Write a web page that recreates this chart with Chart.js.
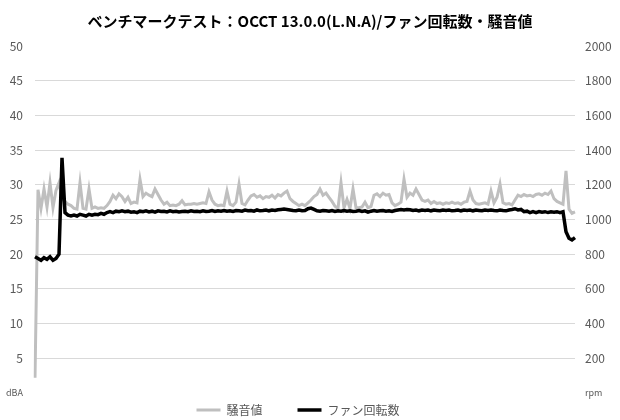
<!DOCTYPE html>
<html>
<head>
<meta charset="utf-8">
<script src="https://cdn.jsdelivr.net/npm/chart.js@4"></script>
<style>
  body { margin: 0; background: #fff; }
  #wrap { width: 620px; height: 420px; }
</style>
</head>
<body>
<div id="wrap"><canvas id="chart"></canvas></div>
<script>
/* DATA */
const chartTitle = "ベンチマークテスト：OCCT 13.0.0(L.N.A)/ファン回転数・騒音値";
const seriesNames = ["騒音値", "ファン回転数"];

// noise level (dBA), one sample per step
const noise = [
  2.2, 29.3, 26.6, 29.4, 26.8, 30.3, 26.7, 29.2, 30.3, 28.0,
  27.6, 27.2, 27.0, 26.6, 26.5, 30.3, 26.6, 26.5, 29.4, 26.6,
  26.8, 26.6, 26.7, 26.6, 27.0, 27.6, 28.5, 28.0, 28.7, 28.3,
  27.6, 28.2, 27.3, 27.5, 27.4, 30.8, 28.3, 28.8, 28.5, 28.3,
  29.4, 28.6, 27.8, 27.2, 27.5, 27.0, 27.1, 27.0, 27.2, 27.7,
  27.1, 27.2, 27.2, 27.3, 27.2, 27.3, 27.4, 27.3, 29.0, 27.8,
  27.2, 27.0, 27.1, 27.0, 29.1, 27.2, 27.0, 27.5, 30.1, 27.3,
  27.1, 27.8, 28.4, 28.6, 28.2, 28.4, 28.0, 28.3, 28.2, 28.5,
  28.1, 28.6, 28.4, 28.8, 29.1, 28.0, 27.6, 27.3, 27.0, 27.2,
  27.0, 27.4, 27.8, 28.3, 28.6, 29.4, 28.5, 28.8, 28.2, 27.6,
  26.9, 26.6, 30.3, 26.7, 27.9, 26.6, 29.4, 26.7, 26.7, 26.8,
  27.5, 26.7, 26.9, 28.5, 28.7, 28.3, 28.8, 28.5, 28.6, 27.4,
  27.0, 27.2, 27.5, 30.8, 28.2, 28.8, 28.5, 29.4, 28.6, 27.8,
  27.6, 27.8, 27.3, 27.6, 27.3, 27.4, 27.2, 27.4, 27.3, 27.5,
  27.3, 27.4, 27.2, 27.5, 27.6, 29.1, 27.8, 27.3, 27.2, 27.3,
  27.4, 27.2, 29.1, 27.4, 28.2, 30.1, 27.4, 27.2, 27.3, 27.1,
  27.8, 28.5, 28.3, 28.6, 28.4, 28.5, 28.3, 28.6, 28.7, 28.5,
  28.8, 28.6, 29.1, 28.0, 27.6, 27.4, 27.2, 32.0, 26.5, 25.9,
  26.1
];

// fan speed (rpm)
const fanRpm = [
  785, 775, 765, 780, 770, 785, 765, 775, 800, 1355,
  1040, 1025, 1020, 1025, 1020, 1030, 1025, 1020, 1030, 1025,
  1030, 1028, 1035, 1030, 1040, 1045, 1040, 1048, 1045, 1050,
  1045, 1048, 1042, 1045, 1040, 1048, 1045, 1050, 1044, 1048,
  1042, 1050, 1046, 1048, 1044, 1050, 1045, 1048, 1044, 1046,
  1048, 1045, 1050, 1046, 1048, 1045, 1050, 1046, 1048, 1052,
  1046, 1050, 1048, 1052, 1048, 1050, 1046, 1052, 1050, 1048,
  1054, 1050, 1052, 1048, 1055, 1050, 1052, 1055, 1050, 1054,
  1052, 1056, 1058, 1060, 1058, 1055, 1052, 1050, 1054, 1050,
  1052, 1062, 1066, 1058, 1050, 1048, 1052, 1050, 1048, 1052,
  1046, 1050, 1048, 1052, 1048, 1050, 1046, 1048, 1052, 1046,
  1050, 1042, 1048, 1052, 1048, 1050, 1052, 1048, 1050, 1046,
  1052, 1055, 1058, 1055, 1058, 1056, 1052, 1055, 1050, 1054,
  1052, 1055, 1050, 1054, 1052, 1050, 1054, 1052, 1055, 1050,
  1052, 1055, 1050, 1054, 1052, 1055, 1050, 1054, 1052, 1050,
  1054, 1052, 1055, 1052, 1050, 1055, 1052, 1050, 1055, 1058,
  1062, 1055, 1058, 1045, 1048, 1040, 1045, 1040, 1046, 1042,
  1045, 1040, 1044, 1042, 1045, 1040, 1045, 930, 892, 882,
  895
];

const labels = noise.map((v, i) => i + 1);

/* RENDER CHART */
const font = "'Noto Sans CJK JP', 'Noto Sans', sans-serif";
const tickColor = "#595959";

new Chart(document.getElementById("chart"), {
  type: "line",
  data: {
    labels: labels,
    datasets: [
      {
        label: seriesNames[0],
        data: noise,
        yAxisID: "y",
        borderColor: "#bfbfbf",
        backgroundColor: "#bfbfbf",
        borderWidth: 3,
        pointRadius: 0,
        tension: 0,
        order: 2
      },
      {
        label: seriesNames[1],
        data: fanRpm,
        yAxisID: "y2",
        borderColor: "#000000",
        backgroundColor: "#000000",
        borderWidth: 3.5,
        pointRadius: 0,
        tension: 0,
        order: 1
      }
    ]
  },
  options: {
    responsive: true,
    maintainAspectRatio: false,
    animation: false,
    layout: { padding: { left: 0, right: 0, top: 0, bottom: -6 } },
    plugins: {
      title: {
        display: true,
        text: chartTitle,
        color: "#000",
        font: { family: font, size: 15, weight: "bold" },
        padding: { top: 12, bottom: 16 }
      },
      legend: {
        position: "bottom",
        labels: {
          color: tickColor,
          font: { family: font, size: 12 },
          usePointStyle: true,
          pointStyle: "line",
          pointStyleWidth: 24,
          padding: 11,
          sort: (a, b) => a.datasetIndex - b.datasetIndex,
          // wider gap between the two items, like the original
          generateLabels: chart => Chart.defaults.plugins.legend.labels.generateLabels(chart)
            .map(l => Object.assign(l, { text: l.text + "\u3000\u3000" }))
        }
      },
      tooltip: { enabled: false }
    },
    scales: {
      x: { display: false },
      y: {
        position: "left",
        min: 0,
        max: 50,
        afterFit: s => { s.width = 35; },
        border: { display: false },
        grid: {
          drawTicks: false,
          color: c => (c.tick.value === 0 || c.tick.value === 50) ? "rgba(0,0,0,0)" : "#d9d9d9"
        },
        ticks: {
          stepSize: 5,
          padding: 12,
          color: tickColor,
          font: c => c.tick && c.tick.value === 0 ? { family: font, size: 9 } : { family: font, size: 12 },
          callback: v => v === 0 ? "dBA" : v
        }
      },
      y2: {
        position: "right",
        min: 0,
        max: 2000,
        afterFit: s => { s.width = 45; },
        border: { display: false },
        grid: { display: false, drawTicks: false },
        ticks: {
          stepSize: 200,
          padding: 10,
          color: tickColor,
          font: c => c.tick && c.tick.value === 0 ? { family: font, size: 9 } : { family: font, size: 12 },
          callback: v => v === 0 ? "rpm" : v
        }
      }
    }
  }
});
</script>
</body>
</html>
